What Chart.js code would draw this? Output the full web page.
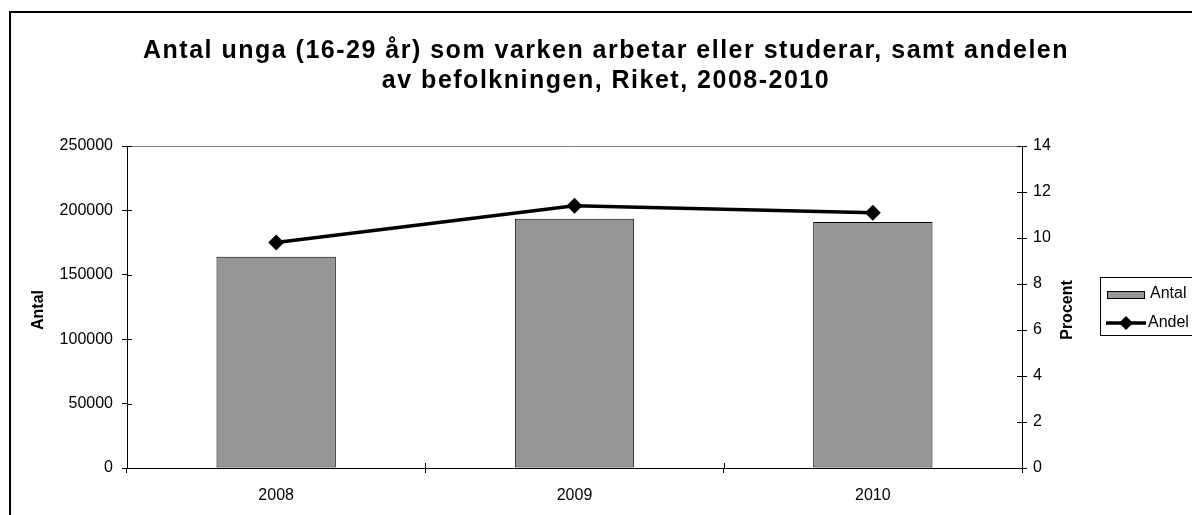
<!DOCTYPE html>
<html>
<head>
<meta charset="utf-8">
<script src="https://cdn.jsdelivr.net/npm/chart.js@4"></script>
<style>
  html, body { margin: 0; padding: 0; background: #fff; overflow: hidden; }
  #wrap { width: 1210px; height: 515px; }
</style>
</head>
<body>
<div id="wrap"><canvas id="chart" width="1210" height="515"></canvas></div>
<script>
// chart values
const years = ["2008", "2009", "2010"];
const antal = [164000, 193500, 191000];
const andel = [9.8, 11.4, 11.1];

const titleLines = ["Antal unga (16-29 år) som varken arbetar eller studerar, samt andelen", "av befolkningen, Riket, 2008-2010"];
const leftTitle = "Antal";
const rightTitle = "Procent";

const FONT = "'Liberation Sans', Arial, Helvetica, sans-serif";

// frame, title, plot top border, inner tick halves, axis titles, legend
const decorations = {
    id: "decorations",
    beforeDraw(chart) {
        const ctx = chart.ctx;
        ctx.save();
        ctx.strokeStyle = "#000";
        ctx.lineWidth = 2;
        ctx.strokeRect(10, 12, chart.width + 20, chart.height + 20);
        ctx.restore();
    },
    afterDraw(chart) {
        const ctx = chart.ctx;
        const area = chart.chartArea;
        const y = chart.scales.y, y2 = chart.scales.y2;
        ctx.save();

        // title
        ctx.fillStyle = "#000";
        ctx.font = "bold 25px " + FONT;
        ctx.textAlign = "center";
        ctx.textBaseline = "alphabetic";
        ctx.letterSpacing = "1.5px";
        titleLines.forEach((line, i) => ctx.fillText(line, chart.width / 2 + 1, 58 + i * 30));
        ctx.letterSpacing = "0px";

        // plot area top border
        ctx.strokeStyle = "#808080";
        ctx.lineWidth = 1;
        ctx.beginPath();
        ctx.moveTo(area.left, area.top + 0.5);
        ctx.lineTo(area.right, area.top + 0.5);
        ctx.stroke();

        // ticks crossing into the plot
        ctx.strokeStyle = "#000";
        ctx.beginPath();
        y.ticks.forEach((t, i) => {
            const py = Math.round(y.getPixelForTick(i)) + 0.5;
            ctx.moveTo(area.left, py); ctx.lineTo(area.left + 5, py);
        });
        y2.ticks.forEach((t, i) => {
            const py = Math.round(y2.getPixelForTick(i)) + 0.5;
            ctx.moveTo(area.right, py); ctx.lineTo(area.right - 5, py);
        });
        for (let i = 0; i <= years.length; i++) {
            const px = Math.round(area.left + (area.right - area.left) * i / years.length) + 0.5;
            ctx.moveTo(px, area.bottom); ctx.lineTo(px, area.bottom - 5);
        }
        ctx.stroke();

        // axis titles (both read bottom to top)
        ctx.font = "bold 16px " + FONT;
        ctx.textAlign = "center";
        ctx.textBaseline = "middle";
        const midY = (area.top + area.bottom) / 2 + 3;
        [[leftTitle, 39], [rightTitle, area.right + 46]].forEach(([txt, tx]) => {
            ctx.save();
            ctx.translate(tx, midY);
            ctx.rotate(-Math.PI / 2);
            ctx.fillText(txt, 0, 0);
            ctx.restore();
        });

        // legend
        const bars = chart.data.datasets.find(d => d.type !== "line");
        const line = chart.data.datasets.find(d => d.type === "line");
        const lx = area.right + 78, ly = area.top + 131;
        ctx.strokeStyle = "#000";
        ctx.lineWidth = 1;
        ctx.strokeRect(lx + 0.5, ly + 0.5, 140, 58);
        ctx.font = "16px " + FONT;
        ctx.textAlign = "left";
        // bar item
        ctx.fillStyle = bars.backgroundColor;
        ctx.fillRect(lx + 7.5, ly + 14.5, 37, 7);
        ctx.strokeRect(lx + 7.5, ly + 14.5, 37, 7);
        ctx.fillStyle = "#000";
        ctx.fillText(bars.label, lx + 50, ly + 17);
        // line item
        ctx.lineWidth = 3.5;
        ctx.beginPath();
        ctx.moveTo(lx + 6, ly + 46); ctx.lineTo(lx + 46, ly + 46);
        ctx.stroke();
        ctx.beginPath();
        ctx.moveTo(lx + 26 - 7, ly + 46); ctx.lineTo(lx + 26, ly + 39);
        ctx.lineTo(lx + 26 + 7, ly + 46); ctx.lineTo(lx + 26, ly + 53);
        ctx.closePath();
        ctx.fill();
        ctx.fillText(line.label, lx + 48, ly + 46);
        ctx.restore();
    }
};

new Chart(document.getElementById("chart"), {
    type: "bar",
    data: {
        labels: years,
        datasets: [
            {
                type: "line",
                label: "Andel",
                data: andel,
                yAxisID: "y2",
                borderColor: "#000",
                backgroundColor: "#000",
                borderWidth: 3.5,
                tension: 0,
                pointStyle: "rectRot",
                pointRadius: 8,
                pointBorderWidth: 0,
                order: 0
            },
            {
                type: "bar",
                label: "Antal",
                data: antal,
                yAxisID: "y",
                backgroundColor: "#969696",
                borderColor: "#000",
                borderWidth: 1,
                borderSkipped: false,
                barPercentage: 0.4,
                categoryPercentage: 1,
                order: 1
            }
        ]
    },
    options: {
        responsive: false,
        animation: false,
        layout: { padding: { top: 146, left: 0, right: 0, bottom: 0 } },
        plugins: {
            legend: { display: false },
            tooltip: { enabled: false },
            title: { display: false }
        },
        scales: {
            x: {
                offset: true,
                grid: { offset: true, drawOnChartArea: false, tickLength: 5, color: "#000" },
                border: { color: "#000", width: 1 },
                ticks: { color: "#000", font: { family: FONT, size: 16 }, padding: 13 },
                afterFit(scale) { scale.height = 47; }
            },
            y: {
                position: "left",
                min: 0, max: 250000,
                ticks: {
                    stepSize: 50000, color: "#000", font: { family: FONT, size: 16 }, padding: 9,
                    callback: v => String(v)
                },
                grid: { drawOnChartArea: false, tickLength: 5, color: "#000" },
                border: { color: "#000", width: 1 },
                afterFit(scale) { scale.width = 127; }
            },
            y2: {
                position: "right",
                min: 0, max: 14,
                ticks: { stepSize: 2, color: "#000", font: { family: FONT, size: 16 }, padding: 6 },
                grid: { drawOnChartArea: false, tickLength: 5, color: "#000" },
                border: { color: "#000", width: 1 },
                afterFit(scale) { scale.width = 188; }
            }
        }
    },
    plugins: [decorations]
});
</script>
</body>
</html>
